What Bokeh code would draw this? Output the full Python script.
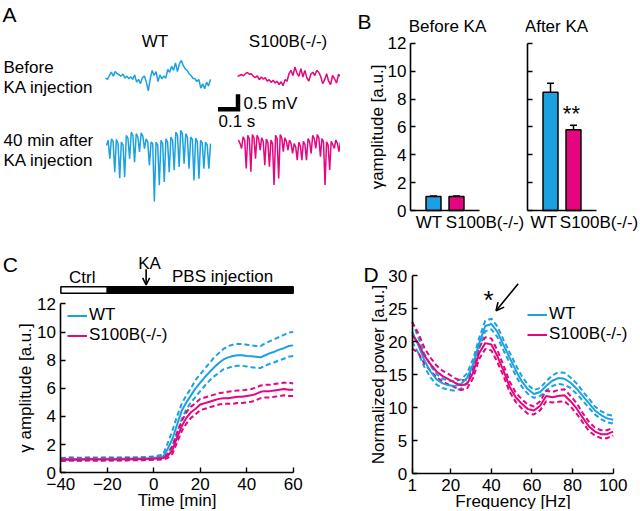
import numpy as np
from bokeh.plotting import figure
from bokeh.models import (Range1d, FixedTicker, Label, Legend, LegendItem, Whisker,
                          ColumnDataSource, Arrow, OpenHead, TeeHead, LinearAxis)
from bokeh.layouts import row, column
from bokeh.embed import file_html
from bokeh.resources import INLINE

# ---------------- data ----------------
# Panel A: example LFP traces (mV), equally sampled
wt_before = [0.02, -0.02, 0.11, 0.22, 0.09, 0.24, 0.17, 0.13, 0.09, 0.16, 0.02, 0.09, 0.00, 0.07,
             -0.02, 0.13, -0.11, -0.02, -0.16, 0.04, 0.09, -0.11, -0.40, 0.00, 0.28, 0.11, 0.24,
             -0.09, 0.13, 0.00, 0.09, 0.02, 0.31, 0.22, 0.42, 0.28, 0.53, 0.24, 0.50, 0.61, 0.44,
             0.33, 0.28, 0.17, 0.11, 0.02, 0.00, -0.09, -0.02, -0.31, -0.17, -0.33, -0.11, -0.24, -0.02]
ko_before = [0.00, 0.03, 0.07, 0.02, 0.09, 0.13, 0.07, 0.09, 0.00, -0.04, 0.02, -0.11, -0.02, -0.09,
             -0.04, -0.16, -0.11, -0.20, -0.13, -0.22, -0.16, -0.27, -0.18, -0.31, -0.11, -0.16, 0.09,
             0.20, 0.03, 0.31, 0.11, 0.00, 0.26, -0.02, 0.20, -0.04, -0.16, 0.07, 0.14, 0.03, 0.20,
             0.14, 0.00, -0.24, -0.11, 0.09, -0.16, -0.27, 0.03, -0.08, -0.22, 0.07, 0.00]
wt_after = [0.00, 0.17, -0.44, 0.22, 0.13, -0.89, 0.20, 0.06, -1.09, 0.11, 0.02, -1.06, 0.33, 0.24,
            -0.44, 0.44, 0.33, -0.56, 0.39, 0.28, -0.22, 0.42, 0.31, -0.11, 0.22, 0.11, -0.67, 0.11,
            0.06, -1.87, 0.11, 0.02, -1.33, 0.17, 0.06, -1.22, 0.22, 0.11, -0.89, 0.28, 0.17, -0.83,
            0.44, 0.33, -0.72, 0.50, 0.39, -0.61, 0.39, 0.28, -0.78, 0.28, 0.20, -1.17, 0.24, 0.13,
            -1.11, 0.17, 0.09, -0.78, 0.11, 0.02, -0.78, 0.06]
ko_after = [0.06, -0.06, -0.22, 0.17, 0.06, -0.89, 0.22, 0.11, -1.00, 0.24, 0.13, -0.56, 0.22, 0.11,
            -0.28, 0.13, 0.02, -0.78, 0.09, -0.02, -0.83, 0.06, -0.06, -1.44, 0.22, 0.11, -1.22, 0.24,
            0.13, -0.33, 0.13, 0.02, -0.28, 0.06, -0.06, -0.39, -0.06, -0.17, -0.61, -0.02, -0.13,
            -0.61, 0.02, -0.09, -0.61, 0.11, 0.00, -0.39, 0.22, 0.11, -0.22, 0.24, 0.13, -0.50, 0.11,
            0.00, -1.44, 0.00, -0.11, -0.94, 0.02, -0.09, -0.22, 0.06, -0.06, -0.33, 0.00]
trace_dur = {"wt_before": 0.525, "ko_before": 0.515, "wt_after": 0.52, "ko_after": 0.51}  # s
scale_time = 0.1   # s
scale_volt = 0.5   # mV

# Panel B: gamma amplitude
b_groups = ["WT", "S100B(-/-)"]
before_mean = [1.0, 1.0]
before_err = [0.04, 0.04]
after_mean = [8.5, 5.8]
after_err = [0.65, 0.33]

# Panel C: time course of gamma amplitude
c_time = [-40, -36, -32, -28, -24, -20, -16, -12, -8, -4, 0, 4, 6, 8, 10, 12, 14, 16, 18, 20, 22,
          24, 26, 28, 30, 32, 34, 36, 38, 40, 42, 44, 46, 48, 50, 52, 54, 56, 58, 60]
c_wt = [0.95, 1.0, 0.97, 1.0, 0.98, 1.0, 0.99, 1.0, 1.01, 1.02, 1.05, 1.15, 1.7, 2.4, 3.4, 4.4,
        5.0, 5.5, 6.0, 6.4, 6.8, 7.15, 7.5, 7.8, 8.05, 8.2, 8.3, 8.35, 8.35, 8.3, 8.28, 8.25, 8.2,
        8.35, 8.5, 8.6, 8.75, 8.85, 9.0, 9.05]
c_wt_hi = [1.05, 1.1, 1.07, 1.1, 1.08, 1.1, 1.09, 1.1, 1.11, 1.12, 1.15, 1.3, 2.1, 3.0, 4.0, 4.9,
           5.5, 6.0, 6.6, 7.0, 7.4, 7.8, 8.2, 8.5, 8.8, 9.0, 9.1, 9.15, 9.15, 9.1, 9.05, 9.0, 9.0,
           9.2, 9.35, 9.5, 9.65, 9.8, 9.95, 10.0]
c_wt_lo = [0.85, 0.9, 0.87, 0.9, 0.88, 0.9, 0.89, 0.9, 0.91, 0.92, 0.95, 1.0, 1.35, 1.9, 2.8, 3.8,
           4.5, 5.0, 5.4, 5.8, 6.2, 6.55, 6.85, 7.1, 7.35, 7.45, 7.55, 7.6, 7.6, 7.55, 7.5, 7.45,
           7.45, 7.6, 7.75, 7.85, 8.0, 8.1, 8.25, 8.3]
c_ko = [0.92, 0.95, 0.93, 0.96, 0.94, 0.95, 0.95, 0.96, 0.97, 0.98, 1.0, 1.05, 1.2, 1.6, 2.5, 3.3,
        3.9, 4.3, 4.55, 4.85, 4.95, 5.05, 5.15, 5.25, 5.3, 5.3, 5.35, 5.4, 5.4, 5.45, 5.5, 5.6,
        5.75, 5.8, 5.8, 5.85, 5.9, 5.95, 5.9, 5.9]
c_ko_hi = [1.0, 1.03, 1.01, 1.04, 1.02, 1.03, 1.03, 1.04, 1.05, 1.06, 1.08, 1.15, 1.35, 1.9, 2.85,
           3.65, 4.3, 4.7, 4.95, 5.25, 5.35, 5.45, 5.55, 5.65, 5.7, 5.75, 5.8, 5.85, 5.85, 5.9,
           5.95, 6.05, 6.2, 6.25, 6.25, 6.3, 6.35, 6.4, 6.4, 6.35]
c_ko_lo = [0.84, 0.87, 0.85, 0.88, 0.86, 0.87, 0.87, 0.88, 0.89, 0.9, 0.92, 0.95, 1.05, 1.35, 2.15,
           2.95, 3.5, 3.9, 4.15, 4.45, 4.55, 4.65, 4.75, 4.85, 4.9, 4.9, 4.9, 4.95, 4.95, 5.0,
           5.05, 5.15, 5.3, 5.35, 5.35, 5.4, 5.45, 5.5, 5.45, 5.45]
ctrl_period = (-40, -20)
pbs_period = (-20, 60)
ka_time = -3.3

# Panel D: normalized power spectra
d_freq = [1, 4, 7, 10, 13, 16, 19, 22, 25, 28, 31, 34, 37, 40, 43, 46, 49, 52, 55, 58, 61, 64, 67,
          70, 73, 76, 79, 82, 85, 88, 91, 94, 97, 100]
d_wt = [21.5, 19.5, 17.2, 15.5, 14.3, 13.7, 13.4, 13.3, 13.6, 14.5, 16.6, 19.8, 22.4, 22.7, 21.5,
        19.5, 17.6, 15.7, 14.0, 12.8, 12.1, 12.4, 13.3, 14.1, 14.5, 14.4, 13.8, 12.9, 11.8, 10.7,
        9.6, 8.9, 8.4, 8.2]
d_wt_sem = [1.5, 1.2, 1.0, 0.9, 0.8, 0.7, 0.7, 0.7, 0.7, 0.7, 0.8, 0.8, 0.8, 0.8, 0.8, 0.8, 0.8,
            0.8, 0.8, 0.7, 0.6, 0.6, 0.7, 0.8, 0.9, 0.9, 0.8, 0.8, 0.7, 0.7, 0.6, 0.6, 0.6, 0.6]
d_ko = [21.0, 19.8, 17.9, 16.6, 15.5, 14.8, 14.3, 13.8, 13.4, 13.6, 15.3, 18.3, 19.8, 19.6, 17.8,
        15.6, 13.2, 11.6, 10.6, 9.8, 9.6, 10.3, 11.8, 11.6, 11.8, 11.9, 11.0, 9.9, 8.5, 7.2, 6.4,
        6.0, 6.0, 6.4]
d_ko_sem = [2.0, 1.5, 1.2, 1.0, 0.9, 0.8, 0.8, 0.7, 0.7, 0.7, 0.8, 0.9, 0.9, 0.9, 0.9, 0.8, 0.8,
            0.7, 0.7, 0.7, 0.6, 0.7, 0.8, 0.8, 0.9, 0.9, 0.8, 0.8, 0.7, 0.7, 0.6, 0.6, 0.6, 0.6]

# ---------------- style ----------------
FONT = "Liberation Sans"
FS = "17px"
FL = "21px"
BLUE = "#1ba1e2"
PINK = "#e4057f"


def make_fig(w, h, xr, yr):
    p = figure(width=w, height=h, x_range=xr, y_range=yr, toolbar_location=None,
               output_backend="svg", min_border=0)
    p.outline_line_color = None
    p.grid.visible = False
    p.background_fill_color = "white"
    p.border_fill_color = "white"
    return p


def style_axis(ax, ticks=None, bounds=None, label=None, loc=None, show_ticks=True):
    ax.axis_line_width = 1.6
    ax.axis_line_color = "black"
    ax.major_tick_in = 5
    ax.major_tick_out = 0
    ax.major_tick_line_width = 1.4
    ax.major_tick_line_color = "black" if show_ticks else None
    ax.minor_tick_line_color = None
    ax.major_label_text_font = FONT
    ax.major_label_text_font_size = FS
    ax.major_label_text_color = "black"
    ax.major_label_standoff = 4
    ax.axis_label_text_font = FONT
    ax.axis_label_text_font_size = FS
    ax.axis_label_text_font_style = "normal"
    ax.axis_label_text_color = "black"
    if ticks is not None:
        ax.ticker = FixedTicker(ticks=ticks)
    if bounds is not None:
        ax.bounds = bounds
    if label is not None:
        ax.axis_label = label
    if loc is not None:
        ax.fixed_location = loc


def lab(p, x, y, text, size=FS, align="left", baseline="middle", bold=False):
    p.add_layout(Label(x=x, y=y, text=text, text_font=FONT, text_font_size=size,
                       text_align=align, text_baseline=baseline, text_color="black",
                       text_font_style="bold" if bold else "normal"))


# ---------------- Panel A ----------------
a_w, a_h = 340, 232
pa = make_fig(a_w, a_h, Range1d((0 - 105) / 200, (340 - 105) / 200), Range1d(-232 / 30, 0))
pa.axis.visible = False

offsets = {"wt_before": (0.0, -2.61), "ko_before": (0.66, -2.53),
           "wt_after": (0.005, -4.83), "ko_after": (0.665, -4.71)}
traces = {"wt_before": (wt_before, BLUE), "ko_before": (ko_before, PINK),
          "wt_after": (wt_after, BLUE), "ko_after": (ko_after, PINK)}
for k, (vals, col) in traces.items():
    t0, v0 = offsets[k]
    tt = t0 + np.linspace(0, trace_dur[k], len(vals))
    pa.line(tt, np.array(vals) + v0, line_color=col, line_width=1.5)

sb_t, sb_v = 0.6625, -3.623
pa.line([sb_t - scale_time, sb_t, sb_t], [sb_v, sb_v, sb_v + scale_volt],
        line_color="black", line_width=4.5, line_join="miter")

lab(pa, -0.515, -0.08, "A", size=FL, baseline="top")
lab(pa, 0.2475, -1.35, "WT", align="center")
lab(pa, 0.9125, -1.35, "S100B(-/-)", align="center")
lab(pa, -0.51, -2.22, "Before")
lab(pa, -0.51, -2.90, "KA injection")
lab(pa, -0.51, -4.67, "40 min after")
lab(pa, -0.51, -5.32, "KA injection")
lab(pa, 0.69, -3.42, "0.5 mV")
lab(pa, 0.565, -4.02, "0.1 s")

# ---------------- Panel B ----------------
b_yr = Range1d((210 - 232) / 13.92, 210 / 13.92)
pb1 = make_fig(185, 232, Range1d((340 - 410) / 23, (525 - 410) / 23), b_yr)
pb2 = make_fig(113, 232, Range1d((525 - 527) / 23, (638 - 527) / 23), b_yr)

label_ticks = {id(pb1): [0.80, 3.24], id(pb2): [0.70, 3.11]}
for p, means, errs in ((pb1, before_mean, before_err), (pb2, after_mean, after_err)):
    xs = [1, 2]
    p.vbar(x=xs, top=means, width=0.65, fill_color=[BLUE, PINK], line_color="black",
           line_width=1.5)
    src = ColumnDataSource(dict(x=xs, lo=[m - e for m, e in zip(means, errs)],
                                hi=[m + e for m, e in zip(means, errs)]))
    p.add_layout(Whisker(source=src, base="x", lower="lo", upper="hi", line_width=1.5,
                         line_color="black",
                         lower_head=TeeHead(size=7, line_width=1.5, line_color="black"),
                         upper_head=TeeHead(size=7, line_width=1.5, line_color="black")))
    style_axis(p.xaxis[0], ticks=[], bounds=(0, 3), loc=0, show_ticks=False)
    lt = label_ticks[id(p)]
    gax = LinearAxis()
    style_axis(gax, ticks=lt, loc=0, show_ticks=False)
    gax.axis_line_color = None
    gax.major_label_standoff = 2
    gax.major_label_overrides = {lt[0]: b_groups[0], lt[1]: b_groups[1]}
    p.add_layout(gax, "below")

style_axis(pb1.yaxis[0], ticks=list(range(0, 13, 2)), bounds=(0, 12), loc=0,
           label="γamplitude [a.u.]")
pb1.yaxis[0].axis_label_standoff = -2
pb1.yaxis[0].major_label_standoff = 4
style_axis(pb2.yaxis[0], ticks=list(range(0, 13, 2)), bounds=(0, 12), loc=0)
pb2.yaxis[0].major_label_overrides = {v: "" for v in range(0, 13, 2)}

lab(pb1, -2.3, 14.4, "B", size=FL, baseline="top")
lab(pb1, 1.61, 13.22, "Before KA", align="center")
lab(pb2, 1.26, 13.22, "After KA", align="center")
lab(pb2, 1.91, 7.0, "**", size="22px", align="center")

# ---------------- Panel C ----------------
c_xr = Range1d((0 - 153.3) / 2.323, (318 - 153.3) / 2.323)
c_yr = Range1d((472.3 - 509) / 14.08, (472.3 - 232) / 14.08)
pc = make_fig(318, 277, c_xr, c_yr)
for m, hi, lo, col in ((c_wt, c_wt_hi, c_wt_lo, BLUE), (c_ko, c_ko_hi, c_ko_lo, PINK)):
    pc.line(c_time, hi, line_color=col, line_width=2, line_dash="5 3")
    pc.line(c_time, lo, line_color=col, line_width=2, line_dash="5 3")
rc_wt = pc.line(c_time, c_wt, line_color=BLUE, line_width=2)
rc_ko = pc.line(c_time, c_ko, line_color=PINK, line_width=2)

pc.quad(left=[ctrl_period[0]], right=[ctrl_period[1]], bottom=12.75, top=13.22,
        fill_color="white", line_color="black", line_width=1.5)
pc.quad(left=[pbs_period[0]], right=[pbs_period[1]], bottom=12.75, top=13.22,
        fill_color="black", line_color="black", line_width=1.5)
lab(pc, -30.8, 13.9, "Ctrl", align="center")
lab(pc, 29.6, 13.95, "PBS injection", align="center")
lab(pc, -1.8, 14.9, "KA", align="center")
pc.add_layout(Arrow(x_start=ka_time, y_start=14.45, x_end=ka_time, y_end=13.35,
                    line_width=1.6, line_color="black",
                    end=OpenHead(size=7, line_width=1.6, line_color="black")))
lab(pc, -65.0, 15.6, "C", size=FL, baseline="top")

style_axis(pc.xaxis[0], ticks=[-40, -20, 0, 20, 40, 60], bounds=(-40, 60), loc=0,
           label="Time [min]")
pc.xaxis[0].axis_label_standoff = -2
pc.xaxis[0].major_label_standoff = 5
style_axis(pc.yaxis[0], ticks=list(range(0, 13, 2)), bounds=(0, 12), loc=-40,
           label="γ amplitude [a.u.]")
pc.yaxis[0].axis_label_standoff = -1
pc.yaxis[0].major_label_standoff = 5

leg_c = Legend(items=[LegendItem(label="WT", renderers=[rc_wt]),
                      LegendItem(label="S100B(-/-)", renderers=[rc_ko])],
               location=(67, 164))

# ---------------- Panel D ----------------
d_xr = Range1d(1 + (318 - 411.7) / 2.03, 1 + (638 - 411.7) / 2.03)
d_yr = Range1d((473.3 - 509) / 6.6, (473.3 - 232) / 6.6)
pd_ = make_fig(320, 277, d_xr, d_yr)
for m, s, col in ((d_wt, d_wt_sem, BLUE), (d_ko, d_ko_sem, PINK)):
    m = np.array(m)
    s = np.array(s)
    pd_.line(d_freq, m + s, line_color=col, line_width=2, line_dash="5 3")
    pd_.line(d_freq, m - s, line_color=col, line_width=2, line_dash="5 3")
rd_wt = pd_.line(d_freq, d_wt, line_color=BLUE, line_width=2)
rd_ko = pd_.line(d_freq, d_ko, line_color=PINK, line_width=2)
lab(pd_, 38.6, 26.4, "*", size="26px", align="center")
pd_.add_layout(Arrow(x_start=53.2, y_start=28.8, x_end=42.3, y_end=24.7, line_width=1.6,
                     line_color="black", end=OpenHead(size=8, line_width=1.6, line_color="black")))
lab(pd_, -23.0, 32.0, "D", size=FL, baseline="top")
style_axis(pd_.xaxis[0], ticks=[1, 20, 40, 60, 80, 100], bounds=(1, 100), loc=0,
           label="Frequency [Hz]")
pd_.xaxis[0].axis_label_standoff = -2
pd_.xaxis[0].major_label_standoff = 5
style_axis(pd_.yaxis[0], ticks=list(range(0, 31, 5)), bounds=(0, 30), loc=1,
           label="Normalized power [a.u.]")
pd_.yaxis[0].axis_label_standoff = -2
pd_.yaxis[0].major_label_standoff = 5

leg_d = Legend(items=[LegendItem(label="WT", renderers=[rd_wt]),
                      LegendItem(label="S100B(-/-)", renderers=[rd_ko])],
               location=(209, 165))

for p, leg, rh in ((pc, leg_c, 19), (pd_, leg_d, 17)):
    leg.border_line_color = None
    leg.background_fill_alpha = 0
    leg.padding = 0
    leg.margin = 0
    leg.spacing = 0
    leg.glyph_width = 20
    leg.glyph_height = rh
    leg.label_height = rh
    leg.label_standoff = 2
    leg.label_text_font = FONT
    leg.label_text_font_size = FS
    leg.label_text_color = "black"
    p.add_layout(leg)

layout = column(row(pa, pb1, pb2), row(pc, pd_))
open("out.html", "w").write(file_html(layout, INLINE))
